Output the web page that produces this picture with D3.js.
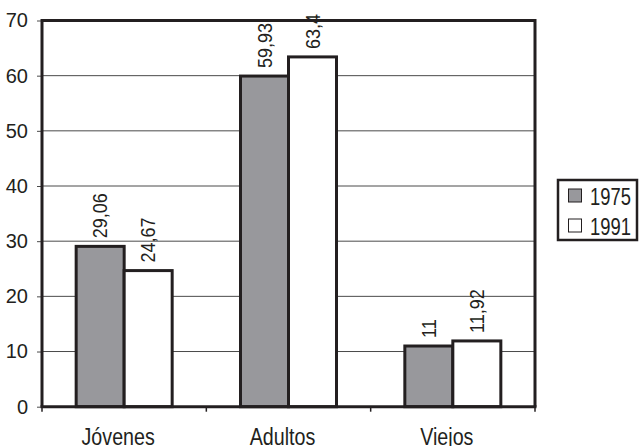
<!DOCTYPE html>
<html><head><meta charset="utf-8">
<script src="https://cdn.jsdelivr.net/npm/d3@7"></script>
<style>body{margin:0;background:#fff}svg{display:block}text{font-family:"Liberation Sans",Arial,sans-serif;fill:#231f20}</style>
</head><body><svg id="c" width="639" height="446"></svg>
<script>
const categories = ["Jóvenes","Adultos","Viejos"];
const seriesNames = ["1975","1991"];
const values1975 = [29.06, 59.93, 11];
const values1991 = [24.67, 63.4, 11.92];
const labels1975 = ["29,06","59,93","11"];
const labels1991 = ["24,67","63,4","11,92"];
const yTicks = [0,10,20,30,40,50,60,70];

const svg = d3.select("#c");
const L=42, R=535, T=20.5, B=406.7;
const x = d3.scaleBand().domain(categories).range([L,R]);
const y = d3.scaleLinear().domain([0,70]).range([B,T]);
const colors = {"1975":"#98989c","1991":"#ffffff"};
const barW = 48;

// gridlines
svg.append("g").selectAll("line").data(yTicks.filter(d=>d>0 && d<70)).join("line")
  .attr("x1",L).attr("x2",R).attr("y1",d=>y(d)).attr("y2",d=>y(d))
  .attr("stroke","#4a4a4a").attr("stroke-width",1);

// y axis
const ya = svg.append("g").attr("transform",`translate(${L},0)`)
  .call(d3.axisLeft(y).tickValues(yTicks).tickSize(5).tickPadding(9));
ya.select(".domain").remove();
ya.selectAll(".tick line").attr("stroke","#4a4a4a");
ya.selectAll("text").attr("font-size",20).style("font-family",'"Liberation Sans",Arial,sans-serif').attr("fill","#231f20");

// x axis ticks at boundaries
const xa = svg.append("g").attr("transform",`translate(0,${B})`);
xa.selectAll("line").data(d3.range(categories.length+1)).join("line")
  .attr("x1",i=>L+i*x.step()).attr("x2",i=>L+i*x.step()).attr("y1",0).attr("y2",5)
  .attr("stroke","#231f20").attr("stroke-width",1.5);
xa.selectAll("text").data(categories).join("text")
  .attr("transform",d=>`translate(${x(d)+x.bandwidth()/2-6},38) scale(0.82,1)`)
  .attr("text-anchor","middle")
  .attr("font-size",24).text(d=>d);

// bars
const series = [{name:"1975",vals:values1975,labs:labels1975,off:-barW},{name:"1991",vals:values1991,labs:labels1991,off:0}];
series.forEach(s=>{
  const g = svg.append("g");
  g.selectAll("rect").data(categories).join("rect")
    .attr("x",(d)=>x(d)+x.bandwidth()/2+s.off)
    .attr("y",(d,i)=>y(s.vals[i]))
    .attr("width",barW)
    .attr("height",(d,i)=>B-y(s.vals[i]))
    .attr("fill",colors[s.name]).attr("stroke","#231f20").attr("stroke-width",3);
  g.selectAll("text").data(categories).join("text")
    .attr("transform",(d,i)=>`translate(${x(d)+x.bandwidth()/2+s.off+barW/2},${y(s.vals[i])-8}) rotate(-90) scale(0.9,1)`)
    .attr("dy","0.35em").attr("font-size",20).text((d,i)=>s.labs[i]);
});

// frame
svg.append("path").attr("d",`M${L},${B}V${T}H${R}V${B}`).attr("fill","none").attr("stroke","#231f20").attr("stroke-width",3);
svg.append("line").attr("x1",L-1.5).attr("x2",R+1.5).attr("y1",B).attr("y2",B).attr("stroke","#231f20").attr("stroke-width",3);

// legend
const lg = svg.append("g");
lg.append("rect").attr("x",558).attr("y",180).attr("width",79).attr("height",60).attr("fill","#fff").attr("stroke","#231f20").attr("stroke-width",2.5);
seriesNames.forEach((n,i)=>{
  lg.append("rect").attr("x",568.5).attr("y",189+i*30).attr("width",13).attr("height",13)
    .attr("fill",colors[n]).attr("stroke","#231f20").attr("stroke-width",1);
  lg.append("text").attr("transform",`translate(590,${205+i*30}) scale(0.8,1)`).attr("font-size",23).text(n);
});
</script></body></html>
